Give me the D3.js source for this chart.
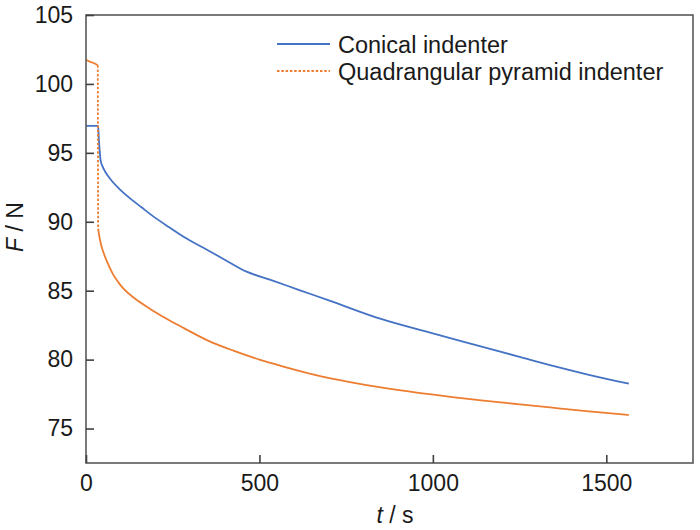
<!DOCTYPE html>
<html>
<head>
<meta charset="utf-8">
<script src="https://cdn.jsdelivr.net/npm/d3@7"></script>
<style>
  body { margin: 0; background: #fff; }
  text { font-family: "Liberation Sans", Arial, sans-serif; fill: #1a1a1a; }
</style>
</head>
<body>
<div id="chart"></div>
<script>
// time (s) and force (N)
var conicalT = [0, 35, 37, 40, 42, 48, 55, 70, 100, 127, 160, 189, 240, 290, 350, 400, 463, 530, 617, 700, 848, 1000, 1146, 1250, 1338, 1450, 1565];
var conicalF = [96.95, 96.95, 96.0, 95.0, 94.45, 94.0, 93.65, 93.1, 92.3, 91.7, 91.05, 90.48, 89.6, 88.78, 87.95, 87.25, 86.38, 85.8, 85.03, 84.3, 82.97, 81.9, 80.91, 80.2, 79.6, 78.9, 78.25];

// quadrangular pyramid: hold before the jump, jump, then relaxation
var pyrHoldT = [0, 12, 24, 34];
var pyrHoldF = [101.75, 101.6, 101.5, 101.35];
var pyrT = [35, 38, 42, 48, 55, 67, 79, 95, 108, 140, 185, 230, 281, 350, 425, 500, 569, 660, 761, 850, 954, 1050, 1146, 1240, 1338, 1450, 1565];
var pyrF = [89.5, 89.0, 88.5, 87.95, 87.45, 86.75, 86.15, 85.55, 85.15, 84.45, 83.68, 83.0, 82.3, 81.4, 80.65, 80.0, 79.5, 78.9, 78.37, 77.98, 77.6, 77.3, 77.02, 76.78, 76.53, 76.25, 75.98];

var xTicks = [0, 500, 1000, 1500];
var yTicks = [75, 80, 85, 90, 95, 100, 105];
var seriesNames = ["Conical indenter", "Quadrangular pyramid indenter"];
var colors = ["#4472c4", "#ed7d31"];

var width = 700, height = 530;
var margin = {top: 15, right: 7, bottom: 67, left: 86};
var w = width - margin.left - margin.right,
    h = height - margin.top - margin.bottom;

var svg = d3.select("#chart").append("svg")
    .attr("width", width)
    .attr("height", height);
var g = svg.append("g").attr("transform", "translate(" + margin.left + "," + margin.top + ")");

var x = d3.scaleLinear().domain([0, 1750]).range([0, w]);
var y = d3.scaleLinear().domain([72.5, 105]).range([h, 0]);

function zip(ts, fs) {
    return ts.map(function(t, i) { return [t, fs[i]]; });
}
var line = d3.line().x(function(d) { return x(d[0]); }).y(function(d) { return y(d[1]); });
var smooth = d3.line().curve(d3.curveMonotoneX)
    .x(function(d) { return x(d[0]); }).y(function(d) { return y(d[1]); });

var pyrHold = zip(pyrHoldT, pyrHoldF),
    pyrRelax = zip(pyrT, pyrF);
var pyrJump = [pyrHold[pyrHold.length - 1], pyrRelax[0]];

g.append("path").datum(zip(conicalT, conicalF))
    .attr("d", smooth).attr("fill", "none")
    .attr("stroke", colors[0]).attr("stroke-width", 1.8);

g.append("path").datum(pyrHold)
    .attr("d", line).attr("fill", "none")
    .attr("stroke", colors[1]).attr("stroke-width", 1.8);
g.append("path").datum(pyrJump)
    .attr("d", line).attr("fill", "none")
    .attr("stroke", colors[1]).attr("stroke-width", 1.8)
    .attr("stroke-dasharray", "2.5,1.8");
g.append("path").datum(pyrRelax)
    .attr("d", smooth).attr("fill", "none")
    .attr("stroke", colors[1]).attr("stroke-width", 1.8);

// frame
g.append("rect")
    .attr("width", w).attr("height", h)
    .attr("fill", "none").attr("stroke", "#595959").attr("stroke-width", 1.6);

var xAxis = g.append("g").attr("transform", "translate(0," + h + ")")
    .call(d3.axisBottom(x).tickValues(xTicks).tickFormat(d3.format("d"))
        .tickSizeInner(-8).tickSizeOuter(0).tickPadding(12));
var yAxis = g.append("g")
    .call(d3.axisLeft(y).tickValues(yTicks).tickFormat(d3.format("d"))
        .tickSizeInner(-8).tickSizeOuter(0).tickPadding(13));

[xAxis, yAxis].forEach(function(a) {
    a.select(".domain").remove();
    a.selectAll(".tick line").attr("stroke", "#404040").attr("stroke-width", 1.6);
    a.selectAll(".tick text")
        .style("font-family", "'Liberation Sans', Arial, sans-serif")
        .style("font-size", "23px").attr("fill", "#1a1a1a");
});

// axis titles
var xt = svg.append("text")
    .attr("x", 395).attr("y", 523)
    .attr("text-anchor", "middle")
    .style("font-size", "23px");
xt.append("tspan").style("font-style", "italic").text("t");
xt.append("tspan").text(" / s");

var yt = svg.append("text")
    .attr("transform", "translate(23,227) rotate(-90)")
    .attr("text-anchor", "middle")
    .style("font-size", "23px");
yt.append("tspan").style("font-style", "italic").text("F");
yt.append("tspan").text(" / N");

// legend
var legend = svg.append("g");
seriesNames.forEach(function(name, i) {
    var ly = 44 + i * 27;
    legend.append("line")
        .attr("x1", 277).attr("x2", 330).attr("y1", ly).attr("y2", ly)
        .attr("stroke", colors[i]).attr("stroke-width", 1.8)
        .attr("stroke-dasharray", i === 1 ? "2.5,1.8" : null);
    legend.append("text")
        .attr("x", 338).attr("y", ly + 9)
        .style("font-size", "23.5px")
        .text(name);
});
</script>
</body>
</html>
